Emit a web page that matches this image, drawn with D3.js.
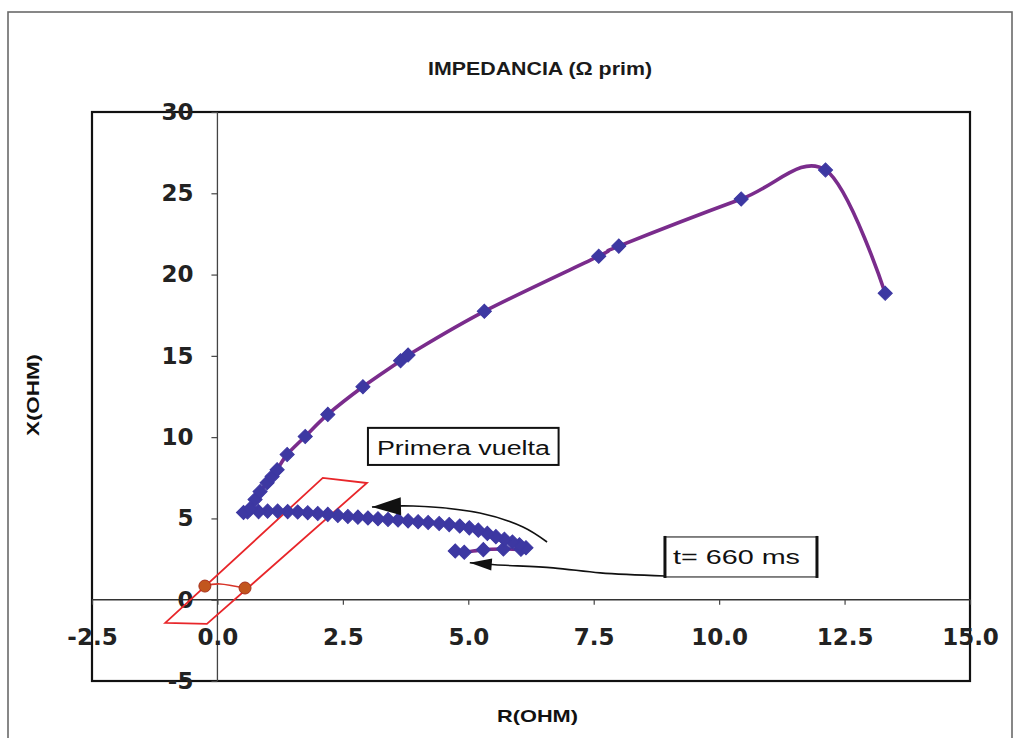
<!DOCTYPE html>
<html>
<head>
<meta charset="utf-8">
<script src="https://cdn.jsdelivr.net/npm/d3@7"></script>
<style>
  body { margin: 0; background: #fff; }
  svg { display: block; }
</style>
</head>
<body>
<svg id="chart" width="1020" height="738"></svg>
<script>
// Impedance trajectory R (ohm) and X (ohm), in order of the swing
const rValues = [4.74, 4.92, 5.30, 5.70, 6.05, 6.15, 6.02, 5.88, 5.72, 5.55, 5.38, 5.20, 5.02, 4.83,
  4.62, 4.42, 4.20, 4.00, 3.80, 3.60, 3.40, 3.20, 3.00, 2.80, 2.60, 2.40, 2.20, 2.00, 1.80,
  1.60, 1.40, 1.20, 1.00, 0.82, 0.60, 0.52, 0.65, 0.75, 0.85, 0.99, 1.09, 1.19, 1.39, 1.75,
  2.20, 2.90, 3.65, 3.80, 5.32, 7.60, 8.00, 10.44, 12.12, 13.31];
const xValues = [3.00, 2.92, 3.08, 3.12, 3.10, 3.20, 3.38, 3.55, 3.72, 3.88, 4.08, 4.28, 4.42, 4.53,
  4.62, 4.69, 4.75, 4.80, 4.85, 4.90, 4.94, 4.98, 5.03, 5.08, 5.12, 5.18, 5.25, 5.30, 5.35,
  5.40, 5.42, 5.45, 5.45, 5.42, 5.40, 5.36, 5.60, 6.16, 6.65, 7.20, 7.58, 8.00, 8.93, 10.04,
  11.40, 13.10, 14.70, 15.05, 17.74, 21.13, 21.75, 24.65, 26.43, 18.85];

// Quadrilateral relay zone (corners) and the arc joining its edges
const zoneR = [-1.04, -0.21, 2.98, 2.10];
const zoneX = [-1.43, -1.49, 7.18, 7.49];
const arcR = [-0.25, 0.05, 0.55];
const arcX = [0.84, 0.97, 0.72];
const arcMarked = [true, false, true];

// Axis ticks
const xTicks = [-2.5, 0, 2.5, 5, 7.5, 10, 12.5, 15];
const yTicks = [-5, 0, 5, 10, 15, 20, 25, 30];

// Annotation arrows (R, X)
const arrowTurnR = [6.57, 6.09, 5.23, 3.90, 3.08];
const arrowTurnX = [3.55, 4.47, 5.33, 5.76, 5.70];
const arrowStartR = [8.92, 7.63, 6.69, 5.53, 5.03];
const arrowStartX = [1.46, 1.65, 1.96, 2.15, 2.27];

const svg = d3.select("#chart");

const x = d3.scaleLinear().domain([-2.5, 15]).range([92, 970]);
const y = d3.scaleLinear().domain([-5, 30]).range([681, 112]);

// outer frame
svg.append("rect")
  .attr("x", 8).attr("y", 12).attr("width", 1004).attr("height", 740)
  .attr("fill", "#fff").attr("stroke", "#6a6a6a").attr("stroke-width", 1.6);

// title
svg.append("text")
  .attr("x", 428).attr("y", 75)
  .attr("textLength", 224).attr("lengthAdjust", "spacingAndGlyphs")
  .style("font-family", "'Liberation Sans', Arial, sans-serif")
  .style("font-size", "18px").style("font-weight", "bold")
  .attr("fill", "#1a1a1a")
  .text("IMPEDANCIA (\u03A9 prim)");

// plot box
svg.append("rect")
  .attr("x", x.range()[0]).attr("y", y.range()[1])
  .attr("width", x.range()[1] - x.range()[0])
  .attr("height", y.range()[0] - y.range()[1])
  .attr("fill", "#fff").attr("stroke", "#111").attr("stroke-width", 2.2);

// zero lines
svg.append("line")
  .attr("x1", x.range()[0]).attr("x2", x.range()[1])
  .attr("y1", y(0)).attr("y2", y(0))
  .attr("stroke", "#333").attr("stroke-width", 1.4);
svg.append("line")
  .attr("x1", x(0)).attr("x2", x(0))
  .attr("y1", y.range()[1]).attr("y2", y.range()[0])
  .attr("stroke", "#444").attr("stroke-width", 1.3);

const tickFont = "'DejaVu Sans', Verdana, sans-serif";
const hyphen = s => s.replace("\u2212", "-");

// x axis on the zero line
const gx = svg.append("g")
  .attr("transform", `translate(0,${y(0)})`)
  .call(d3.axisBottom(x).tickValues(xTicks).tickSize(5).tickPadding(24)
    .tickFormat(d => hyphen(d3.format(".1f")(d))));
gx.select(".domain").remove();
gx.selectAll("line").attr("stroke", "#444").attr("stroke-width", 1.2);
gx.selectAll("text")
  .style("font-family", tickFont).style("font-size", "23px").style("font-weight", "bold")
  .attr("fill", "#222");

// y axis on the zero line
const gy = svg.append("g")
  .attr("transform", `translate(${x(0)},0)`)
  .call(d3.axisLeft(y).tickValues(yTicks).tickSize(6).tickPadding(18)
    .tickFormat(d => hyphen(d3.format("d")(d))));
gy.select(".domain").remove();
gy.selectAll("line").attr("stroke", "#444").attr("stroke-width", 1.2);
gy.selectAll("text")
  .style("font-family", tickFont).style("font-size", "23px").style("font-weight", "bold")
  .attr("fill", "#222");

// axis titles
svg.append("text")
  .attr("x", 497).attr("y", 722)
  .attr("textLength", 81).attr("lengthAdjust", "spacingAndGlyphs")
  .style("font-family", "'Liberation Sans', Arial, sans-serif")
  .style("font-size", "17px").style("font-weight", "bold")
  .attr("fill", "#111").text("R(OHM)");
svg.append("text")
  .attr("transform", "translate(39,436) rotate(-90)")
  .attr("textLength", 82).attr("lengthAdjust", "spacingAndGlyphs")
  .style("font-family", "'Liberation Sans', Arial, sans-serif")
  .style("font-size", "16px").style("font-weight", "bold")
  .attr("fill", "#111").text("X(OHM)");

// relay zone
const zone = zoneR.map((r, i) => [r, zoneX[i]]);
svg.append("path")
  .attr("d", d3.line().x(d => x(d[0])).y(d => y(d[1])).curve(d3.curveLinearClosed)(zone))
  .attr("fill", "none").attr("stroke", "#e8262a").attr("stroke-width", 1.8);

const arc = arcR.map((r, i) => ({ r, x: arcX[i], m: arcMarked[i] }));
svg.append("path")
  .attr("d", d3.line().x(d => x(d.r)).y(d => y(d.x)).curve(d3.curveCardinal.tension(0))(arc))
  .attr("fill", "none").attr("stroke", "#d8352a").attr("stroke-width", 1.6);
svg.selectAll(".arcpt").data(arc.filter(d => d.m)).join("circle")
  .attr("class", "arcpt")
  .attr("cx", d => x(d.r)).attr("cy", d => y(d.x)).attr("r", 6)
  .attr("fill", "#c2561e").attr("stroke", "#a8301c").attr("stroke-width", 1);

// impedance trajectory
const traj = rValues.map((r, i) => [r, xValues[i]]);
svg.append("path")
  .attr("d", d3.line().x(d => x(d[0])).y(d => y(d[1])).curve(d3.curveCardinal.tension(0))(traj))
  .attr("fill", "none").attr("stroke", "#7a2c8c").attr("stroke-width", 3.6)
  .attr("stroke-linejoin", "round");
svg.selectAll(".pt").data(traj).join("path")
  .attr("class", "pt")
  .attr("transform", d => `translate(${x(d[0])},${y(d[1])}) rotate(45)`)
  .attr("d", d3.symbol(d3.symbolSquare, 100)())
  .attr("fill", "#3d38a2").attr("stroke", "#3d38a2").attr("stroke-width", 1);

// arrows with filled heads
function drawArrow(rs, xs, headLen, headHalf, curve) {
  const pts = rs.map((r, i) => [x(r), y(xs[i])]);
  svg.append("path")
    .attr("d", d3.line().curve(curve)(pts))
    .attr("fill", "none").attr("stroke", "#111").attr("stroke-width", 1.6);
  const tip = pts[pts.length - 1], prev = pts[pts.length - 2];
  const dx = tip[0] - prev[0], dy = tip[1] - prev[1];
  const len = Math.hypot(dx, dy), ux = dx / len, uy = dy / len;
  const bx = tip[0] - ux * headLen, by = tip[1] - uy * headLen;
  svg.append("path")
    .attr("d", `M${tip[0]},${tip[1]}L${bx - uy * headHalf},${by + ux * headHalf}L${bx + uy * headHalf},${by - ux * headHalf}Z`)
    .attr("fill", "#111");
}
drawArrow(arrowTurnR, arrowTurnX, 29, 9, d3.curveCatmullRom);
drawArrow(arrowStartR, arrowStartX, 22, 6, d3.curveCatmullRom);

// "Primera vuelta" label
svg.append("rect")
  .attr("x", x(3.0)).attr("y", y(10.57))
  .attr("width", x(6.8) - x(3.0)).attr("height", y(8.29) - y(10.57))
  .attr("fill", "#fff").attr("stroke", "#111").attr("stroke-width", 2);
svg.append("text")
  .attr("x", x(3.0) + 9).attr("y", y(8.29) - 10)
  .attr("textLength", 173).attr("lengthAdjust", "spacingAndGlyphs")
  .style("font-family", "'Liberation Sans', Arial, sans-serif")
  .style("font-size", "20px").attr("fill", "#111")
  .text("Primera vuelta");

// "t= 660 ms" label
const bL = x(8.92), bR = x(11.95), bT = y(3.86), bB = y(1.40);
svg.append("rect")
  .attr("x", bL).attr("y", bT).attr("width", bR - bL).attr("height", bB - bT)
  .attr("fill", "#fff").attr("stroke", "#333").attr("stroke-width", 1.2);
[bL, bR].forEach(px => svg.append("line")
  .attr("x1", px).attr("x2", px).attr("y1", bT - 1).attr("y2", bB + 1)
  .attr("stroke", "#111").attr("stroke-width", 3));
svg.append("text")
  .attr("x", bL + 8).attr("y", bB - 13)
  .attr("textLength", 127).attr("lengthAdjust", "spacingAndGlyphs")
  .style("font-family", "'Liberation Sans', Arial, sans-serif")
  .style("font-size", "21px").attr("fill", "#111")
  .text("t= 660 ms");
</script>
</body>
</html>
